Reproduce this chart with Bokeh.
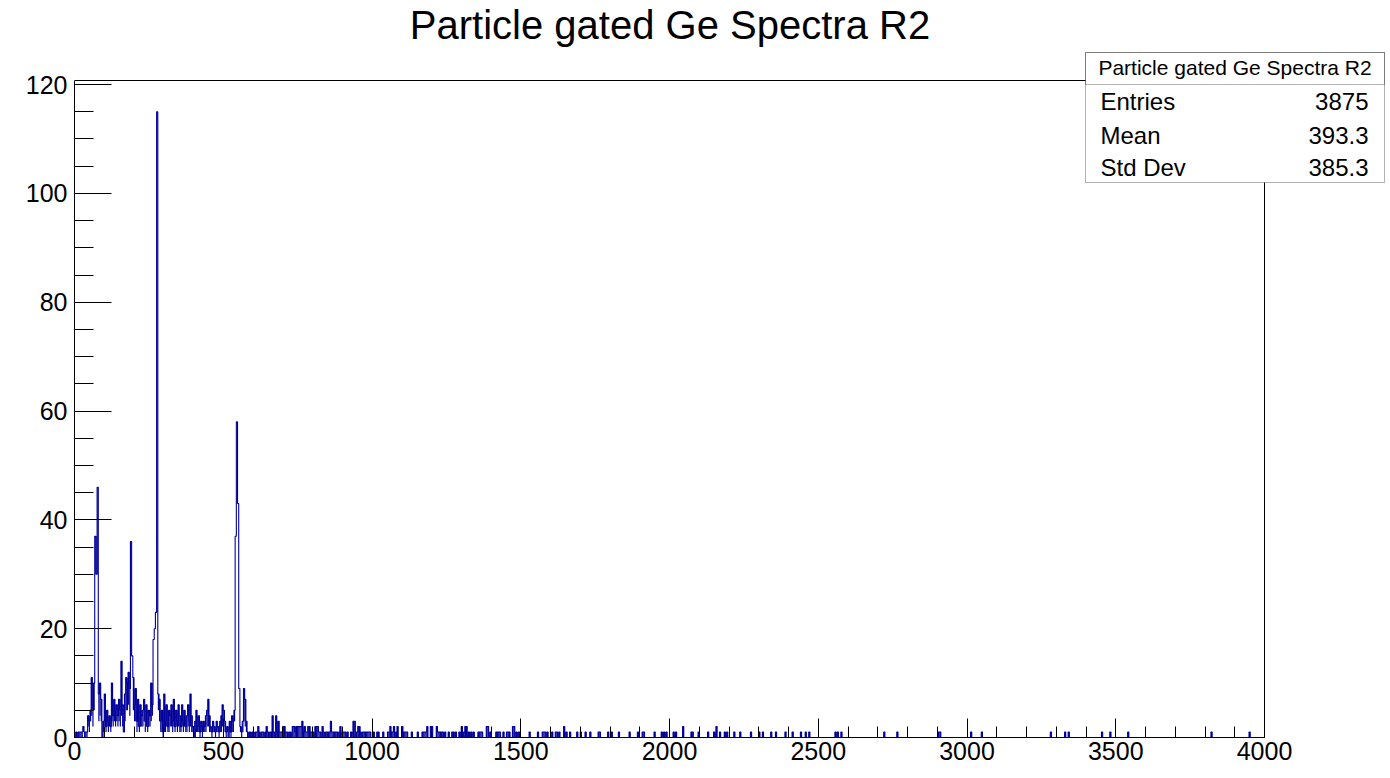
import numpy as np
from bokeh.plotting import figure
from bokeh.models import Label, BoxAnnotation, SingleIntervalTicker, Range1d
from bokeh.embed import file_html
from bokeh.resources import INLINE

# ---------------- data ----------------
title_text = "Particle gated Ge Spectra R2"
stats_names = ["Entries", "Mean", "Std Dev"]
stats_values = ["3875", "393.3", "385.3"]

bin_width = 4
x_max = 4000
# per 4-channel bin, channels 0 .. 796: highest count reached inside the bin
low_counts = [
    0, 1, 0, 1, 1, 1, 1, 2, 1, 1, 1, 4, 3, 5, 11, 5, 10, 37, 30, 46, 8, 10, 7, 0, 3,
    8, 2, 5, 3, 4, 2, 10, 4, 7, 5, 6, 4, 7, 5, 14, 6, 1, 8, 11, 10, 12, 9, 36, 15, 11,
    6, 9, 3, 7, 2, 6, 4, 5, 7, 3, 6, 2, 5, 4, 10, 6, 18, 20, 23, 115, 8, 7, 3, 5, 1,
    8, 3, 6, 2, 5, 4, 6, 3, 7, 2, 5, 3, 6, 4, 2, 6, 3, 5, 2, 4, 6, 3, 8, 4, 2,
    0, 3, 5, 2, 4, 1, 3, 2, 3, 2, 4, 5, 7, 4, 2, 1, 3, 2, 1, 3, 2, 1, 3, 4, 6,
    5, 3, 1, 2, 0, 3, 1, 4, 3, 5, 37, 58, 43, 9, 2, 1, 3, 9, 7, 3, 1, 0, 1, 0, 1,
    1, 0, 1, 1, 2, 1, 0, 1, 1, 0, 1, 2, 1, 0, 1, 1, 4, 1, 0, 4, 1, 3, 1, 1, 1,
    2, 2, 1, 1, 0, 1, 1, 0, 2, 2, 1, 2, 2, 2, 2, 2, 3, 1, 2, 1, 1, 2, 2, 1, 1,
]
# per 4-channel bin, channels 0 .. 596: lowest count reached inside the bin
low_floor = [
    0, 0, 0, 0, 0, 0, 0, 1, 0, 0, 0, 2, 1, 3, 4, 2, 5, 37, 30, 46, 3, 4, 3, 0, 1,
    2, 1, 2, 1, 2, 1, 3, 2, 3, 2, 3, 2, 3, 2, 4, 2, 1, 3, 5, 5, 6, 4, 36, 15, 5,
    3, 3, 1, 2, 1, 2, 2, 2, 3, 1, 2, 1, 2, 2, 3, 4, 18, 20, 23, 115, 5, 3, 1, 1, 0,
    1, 1, 2, 1, 1, 2, 2, 1, 2, 1, 2, 1, 2, 1, 1, 2, 1, 2, 1, 1, 2, 1, 2, 1, 1,
    0, 0, 1, 1, 1, 0, 1, 0, 1, 1, 1, 2, 2, 1, 1, 0, 1, 1, 0, 1, 1, 0, 1, 1, 2,
    2, 1, 0, 1, 0, 1, 0, 1, 1, 3, 37, 58, 43, 9, 1, 0, 1, 3, 2, 1, 0, 0, 0, 0, 0,
]
# sparse tail: start channels of bins holding 1, 2 or 3 counts
tail_single = [
    800, 820, 824, 836, 844, 848, 852, 856, 864, 868, 872, 876, 880, 888, 900, 904,
    908, 916, 928, 948, 960, 968, 972, 976, 980, 984, 988, 992, 1004, 1016, 1020,
    1036, 1052, 1056, 1064, 1068, 1080, 1104, 1108, 1112, 1116, 1132, 1152, 1168,
    1172, 1176, 1180, 1220, 1224, 1228, 1232, 1236, 1244, 1256, 1268, 1272, 1280,
    1292, 1308, 1324, 1332, 1340, 1356, 1360, 1364, 1368, 1396, 1416, 1420, 1424,
    1428, 1440, 1452, 1456, 1460, 1484, 1492, 1528, 1556, 1572, 1576, 1580, 1588,
    1604, 1616, 1620, 1628, 1652, 1664, 1688, 1700, 1716, 1732, 1760, 1764, 1792,
    1804, 1828, 1864, 1892, 1908, 1912, 1948, 1972, 1980, 1988, 2012, 2020, 2072,
    2076, 2096, 2128, 2148, 2168, 2184, 2192, 2216, 2236, 2272, 2300, 2312, 2340,
    2356, 2388, 2412, 2440, 2456, 2468, 2556, 2564, 2576, 2720, 2764, 2904, 2908,
    3012, 3048, 3280, 3328, 3340, 3452, 3480, 3540, 3820, 3948,
]
tail_double = [
    808, 812, 816, 832, 892, 952, 956, 1060, 1072, 1084, 1100, 1184, 1196, 1200,
    1216, 1300, 1312, 1316, 1384, 1388, 1472, 1476, 1644, 2044, 2156,
]
tail_triple = [860, 936, 940]

# ---------------- histogram ----------------
n_bins = x_max // bin_width
counts = np.zeros(n_bins)
counts[:len(low_counts)] = low_counts
for ch in tail_single:
    counts[ch // bin_width] = 1
for ch in tail_double:
    counts[ch // bin_width] = 2
for ch in tail_triple:
    counts[ch // bin_width] = 3
floor = np.zeros(n_bins)
floor[:len(low_floor)] = low_floor
edges = np.arange(n_bins + 1) * bin_width
xs = np.repeat(edges, 2)
ys = np.concatenate([[0], np.repeat(counts, 2), [0]])
band = counts > floor

y_top = counts.max() * 1.05   # ROOT: max * 1.05

FONT = "Liberation Sans"
BLUE = "#000099"
# ROOT frame on the page: left 74, right 1264, top 80, bottom 737
PX_X = 1190 / x_max
PX_Y = 657 / y_top
CANVAS_W, CANVAS_H = 1390, 778
FRAME_L, FRAME_B = 74, 737
FW = CANVAS_W - FRAME_L
FH = FRAME_B

p = figure(frame_width=FW, frame_height=FH,
           min_border_left=FRAME_L, min_border_right=0,
           min_border_top=0, min_border_bottom=CANVAS_H - FRAME_B,
           x_range=Range1d(0, FW / PX_X), y_range=Range1d(0, FH / PX_Y),
           output_backend="svg", toolbar_location=None, title=None,
           background_fill_color="white", border_fill_color="white")
p.outline_line_color = None
p.xgrid.visible = False
p.ygrid.visible = False

# noise band (area spanned by the fine channels inside each drawn bin)
p.quad(left=edges[:-1][band], right=edges[1:][band],
       bottom=floor[band], top=counts[band],
       fill_color=BLUE, line_color=None)
# histogram outline
p.line(xs, ys, line_color=BLUE, line_width=1.1)

# ROOT frame top and right edges
p.line([0, x_max, x_max], [y_top, y_top, 0], line_color="black", line_width=1)

# axes
p.xaxis.ticker = SingleIntervalTicker(interval=500, num_minor_ticks=5)
p.yaxis.ticker = SingleIntervalTicker(interval=20, num_minor_ticks=4)
p.xaxis.bounds = (0, x_max)
p.yaxis.bounds = (0, y_top)
for ax in (p.xaxis[0], p.yaxis[0]):
    ax.axis_line_color = "black"
    ax.major_tick_line_color = "black"
    ax.minor_tick_line_color = "black"
    ax.major_tick_out = 0
    ax.minor_tick_out = 0
    ax.major_label_text_font = FONT
    ax.major_label_text_font_size = "25px"
    ax.major_label_text_color = "black"
p.xaxis.major_tick_in = 19
p.xaxis.minor_tick_in = 11
p.xaxis.major_label_standoff = 4
p.yaxis.major_tick_in = 37
p.yaxis.minor_tick_in = 19
p.yaxis.major_label_standoff = 7

def dx(px):
    return (px - FRAME_L) / PX_X
def dy(py):
    return (FRAME_B - py) / PX_Y

# title
p.add_layout(Label(x=dx(669.5), y=dy(24), text=title_text, text_font=FONT,
                   text_font_size="40px", text_align="center",
                   text_baseline="middle", text_color="black"))

# stats box
p.add_layout(BoxAnnotation(left=dx(1085), right=dx(1384), top=dy(52), bottom=dy(182),
                           fill_color="white", fill_alpha=1.0,
                           line_color="black", line_width=1, level="overlay"))
p.add_layout(BoxAnnotation(left=dx(1085), right=dx(1384), top=dy(52), bottom=dy(84),
                           fill_alpha=0.0, line_color="black", line_width=1,
                           level="overlay"))
p.add_layout(Label(x=dx(1234.5), y=dy(66.5), text=title_text, text_font=FONT,
                   text_font_size="21px", text_align="center",
                   text_baseline="middle", text_color="black", level="overlay"))
row_y = [100.5, 135, 166.5]
for name, val, ry in zip(stats_names, stats_values, row_y):
    p.add_layout(Label(x=dx(1100), y=dy(ry), text=name, text_font=FONT,
                       text_font_size="24px", text_align="left",
                       text_baseline="middle", text_color="black", level="overlay"))
    p.add_layout(Label(x=dx(1368), y=dy(ry), text=val, text_font=FONT,
                       text_font_size="24px", text_align="right",
                       text_baseline="middle", text_color="black", level="overlay"))

open("out.html", "w").write(file_html(p, INLINE))
